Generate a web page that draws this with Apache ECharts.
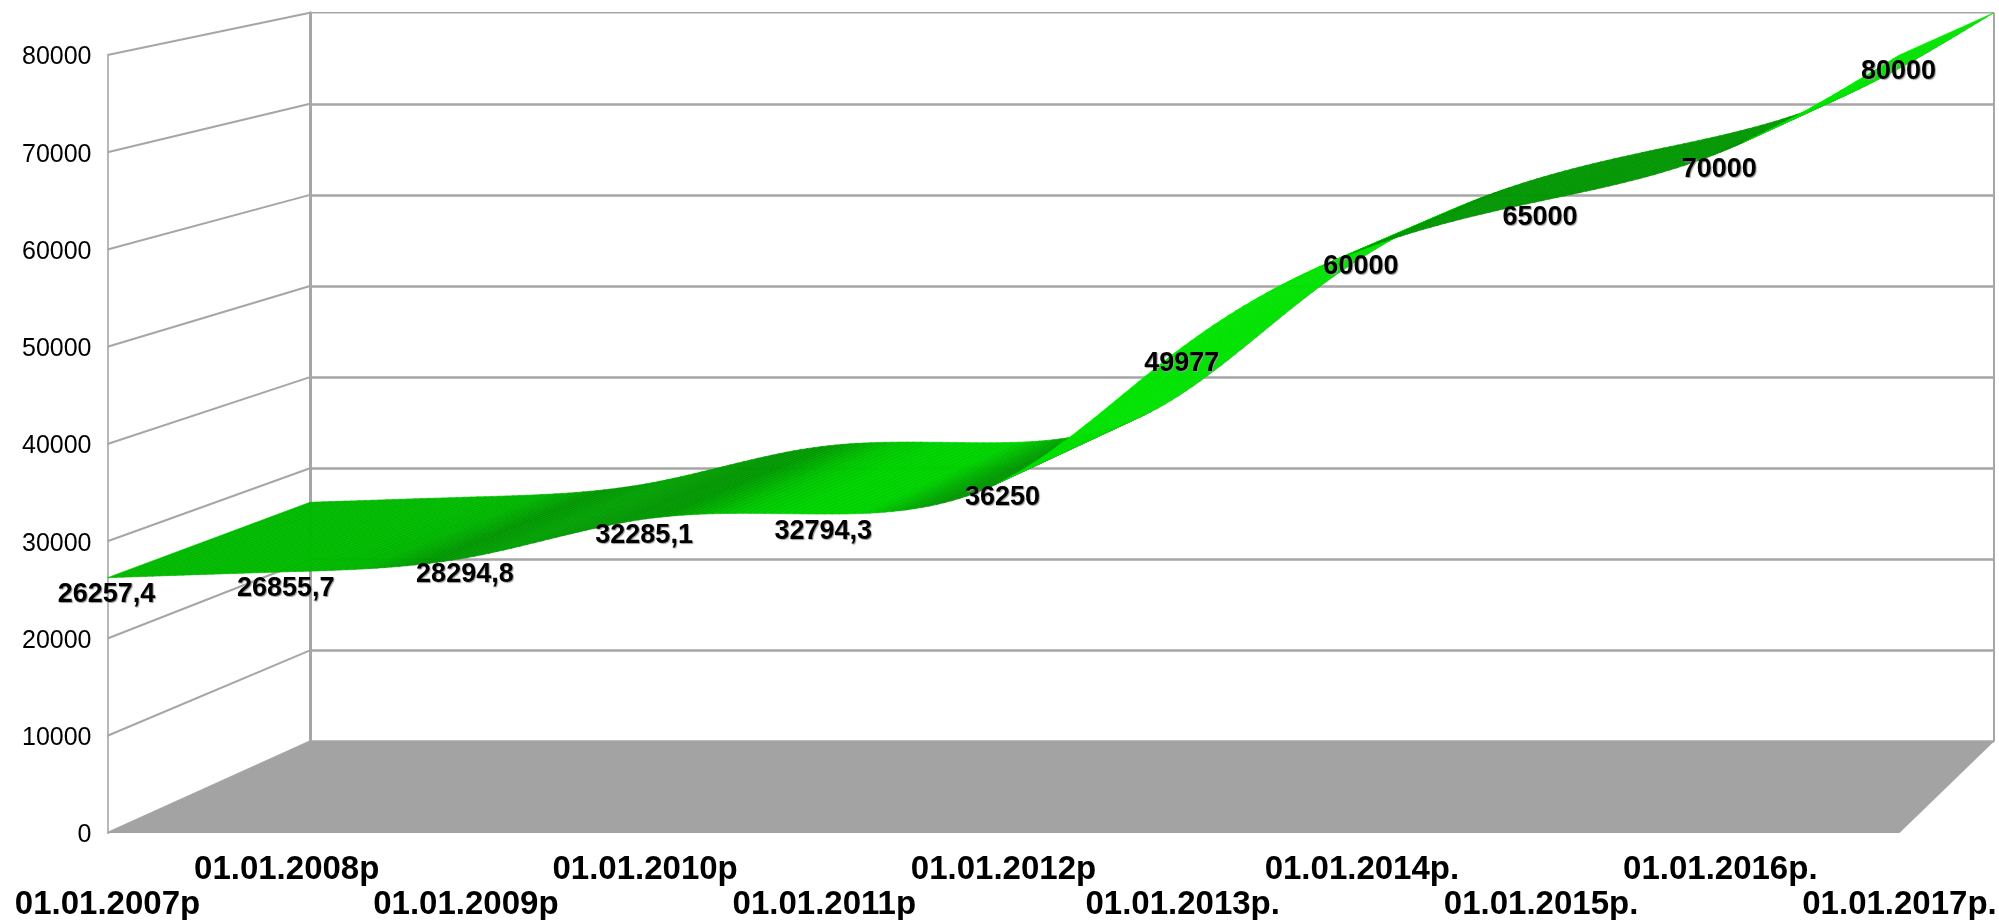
<!DOCTYPE html>
<html>
<head>
<meta charset="utf-8">
<style>
  html, body { margin: 0; padding: 0; background: #fff; }
  #chart { width: 1999px; height: 920px; }
</style>
<script src="https://cdn.jsdelivr.net/npm/echarts@6/dist/echarts.min.js"></script>
</head>
<body>
<div id="chart"></div>
<script>
// Дані графіка
const categories = ['01.01.2007р', '01.01.2008р', '01.01.2009р', '01.01.2010р', '01.01.2011р', '01.01.2012р',
  '01.01.2013р.', '01.01.2014р.', '01.01.2015р.', '01.01.2016р.', '01.01.2017р.']
const values = [26257.4, 26855.7, 28294.8, 32285.1, 32794.3, 36250, 49977, 60000, 65000, 70000, 80000]
const yTicks = [0, 10000, 20000, 30000, 40000, 50000, 60000, 70000, 80000]

// Shading of the ribbon along its length: [position, green channel]
const shadeStops = [[0, 184], [1, 186], [1.4, 180], [1.75, 150], [2.2, 160], [2.8, 150], [3.1, 152], [3.5, 196],
  [3.8, 210], [4.2, 210], [4.45, 170], [4.65, 150], [4.95, 150], [5, 226], [6.9, 226], [6.95, 150], [9.1, 150],
  [9.15, 226], [10, 226]]

const GRID_COLOR = '#a6a6a6'
const lastIndex = categories.length - 1
const topValue = yTicks[yTicks.length - 1]

const chart = echarts.init(document.getElementById('chart'))

const front = (t, v) => chart.convertToPixel({ gridIndex: 0 }, [t, v])
const back = (t, v) => chart.convertToPixel({ gridIndex: 1 }, [t, v])

// natural cubic spline through the values
const spline = (ys) => {
  const n = ys.length
  const m = new Array(n).fill(0)
  const c = new Array(n).fill(0)
  const d = new Array(n).fill(0)
  for (let i = 1; i < n - 1; i++) {
    const w = 4 - c[i - 1]
    c[i] = 1 / w
    d[i] = (6 * (ys[i + 1] - 2 * ys[i] + ys[i - 1]) - d[i - 1]) / w
  }
  for (let i = n - 2; i > 0; i--) m[i] = d[i] - c[i] * m[i + 1]
  return (t) => {
    const i = Math.min(Math.floor(t), n - 2)
    const a = t - i
    const b = 1 - a
    return b * ys[i] + a * ys[i + 1] + ((b * b * b - b) * m[i] + (a * a * a - a) * m[i + 1]) / 6
  }
}
const valueAt = spline(values)

const shadeAt = (t) => {
  for (let i = 1; i < shadeStops.length; i++) {
    const [t0, g0] = shadeStops[i - 1]
    const [t1, g1] = shadeStops[i]
    if (t <= t1) return `rgb(0,${Math.round(g0 + ((g1 - g0) * (t - t0)) / (t1 - t0))},0)`
  }
  return `rgb(0,${shadeStops[shadeStops.length - 1][1]},0)`
}

// Стрічка між переднім і заднім краєм
const renderRibbon = () => {
  const steps = 24
  const children = []
  for (let s = 0; s < lastIndex * steps; s++) {
    const t0 = s / steps
    const t1 = (s + 1) / steps
    const v0 = valueAt(t0)
    const v1 = valueAt(t1)
    const fill = shadeAt((t0 + t1) / 2)
    children.push({
      type: 'polygon',
      shape: { points: [front(t0, v0), back(t0, v0), back(t1, v1), front(t1, v1)] },
      style: { fill, stroke: fill, lineWidth: 0.6 }
    })
  }
  return { type: 'group', children }
}

// Бокова стінка та рамка задньої стінки
const renderWalls = () => {
  const line = (a, b, lineWidth) => ({
    type: 'line',
    shape: { x1: a[0], y1: a[1], x2: b[0], y2: b[1] },
    style: { stroke: GRID_COLOR, lineWidth }
  })
  const children = yTicks.map((v) => line(front(0, v), back(0, v), 2))
  children.push(line(back(0, topValue), back(lastIndex, topValue), 1.6))
  children.push(line(back(lastIndex, 0), back(lastIndex, topValue), 2))
  return { type: 'group', children }
}

// Підлога
const renderFloor = () => ({
  type: 'polygon',
  shape: { points: [front(0, 0), back(0, 0), back(lastIndex, 0), front(lastIndex, 0)] },
  style: { fill: '#a3a3a3' }
})

// Ряд підписів осі X
const dateLabels = (customValues) => ({
  customValues,
  margin: 19,
  color: '#000',
  fontFamily: 'Liberation Sans',
  fontWeight: 'bold',
  fontSize: 33,
  lineHeight: 36,
  formatter: (v) => categories[v]
})
const indexes = categories.map((c, i) => i)

const options = {
  animation: false,
  backgroundColor: '#fff',
  grid: [
    { left: 107.5, top: 55, width: 1792, height: 778, outerBoundsMode: 'none' },
    { left: 310, top: 12.7, width: 1684, height: 728.8, outerBoundsMode: 'none' }
  ],
  xAxis: [
    {
      type: 'value',
      gridIndex: 0,
      min: 0,
      max: lastIndex,
      interval: 1,
      axisLine: { show: false },
      axisTick: { show: false },
      splitLine: { show: false },
      axisLabel: dateLabels(indexes.filter((i) => i % 2 === 1))
    },
    {
      type: 'value',
      gridIndex: 1,
      min: 0,
      max: lastIndex,
      interval: 1,
      axisLine: { show: false },
      axisTick: { show: false },
      axisLabel: { show: false },
      splitLine: { show: false }
    },
    {
      // другий ряд підписів
      type: 'value',
      gridIndex: 0,
      position: 'bottom',
      offset: 35,
      min: 0,
      max: lastIndex,
      interval: 1,
      axisLine: { show: false },
      axisTick: { show: false },
      splitLine: { show: false },
      axisLabel: dateLabels(indexes.filter((i) => i % 2 === 0))
    }
  ],
  yAxis: [
    {
      type: 'value',
      gridIndex: 0,
      min: 0,
      max: topValue,
      interval: 10000,
      axisLine: { show: true, lineStyle: { color: GRID_COLOR, width: 1.6 } },
      axisTick: { show: false },
      splitLine: { show: false },
      axisLabel: {
        margin: 16,
        color: '#000',
        fontFamily: 'Liberation Sans',
        fontSize: 25,
        verticalAlign: 'top',
        lineHeight: 5,
        formatter: (v) => String(v)
      }
    },
    {
      type: 'value',
      gridIndex: 1,
      min: 0,
      max: topValue,
      interval: 10000,
      axisLine: { show: true, lineStyle: { color: GRID_COLOR, width: 3 } },
      axisTick: { show: false },
      axisLabel: { show: false },
      splitLine: { show: true, showMaxLine: false, lineStyle: { color: GRID_COLOR, width: 2.5 } }
    }
  ],
  series: [
    { type: 'custom', xAxisIndex: 0, yAxisIndex: 0, z: 1, silent: true, clip: false, data: [[0, 0]], renderItem: renderWalls },
    { type: 'custom', xAxisIndex: 0, yAxisIndex: 0, z: 2, silent: true, clip: false, data: [[0, 0]], renderItem: renderFloor },
    { type: 'custom', xAxisIndex: 0, yAxisIndex: 0, z: 3, silent: true, clip: false, data: [[0, 0]], renderItem: renderRibbon },
    {
      // підписи значень
      type: 'scatter',
      xAxisIndex: 0,
      yAxisIndex: 0,
      z: 4,
      silent: true,
      symbolSize: 1,
      itemStyle: { color: 'transparent' },
      data: values.map((v, i) => [i, v]),
      label: {
        show: true,
        position: 'inside',
        offset: [-1, 17],
        color: '#000',
        opacity: 1,
        fontFamily: 'Liberation Sans',
        fontWeight: 'bold',
        fontSize: 27,
        textShadowColor: '#999',
        textShadowBlur: 1,
        textShadowOffsetX: 1,
        textShadowOffsetY: 1,
        formatter: (p) => String(p.value[1]).replace('.', ',')
      }
    }
  ]
}
chart.setOption(options)
</script>
</body>
</html>
